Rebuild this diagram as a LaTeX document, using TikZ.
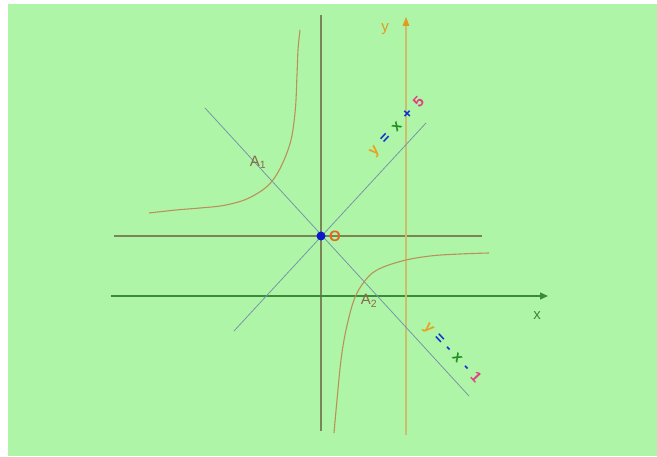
\documentclass[tikz,border=0pt]{standalone}
\usepackage{fontspec}
\setmainfont{Liberation Sans}
\usetikzlibrary{arrows.meta}
\definecolor{bg}{HTML}{AFF5A8}
\definecolor{asym}{HTML}{7A8658}
\definecolor{xax}{HTML}{3A8A3A}
\definecolor{yax}{HTML}{CDBE6C}
\definecolor{yarr}{HTML}{E39A20}
\definecolor{diag}{HTML}{7896A6}
\definecolor{hyp}{HTML}{B8925A}
\definecolor{odot}{HTML}{0A1AC8}
\definecolor{olab}{HTML}{E06A20}
\definecolor{alab}{HTML}{8A6A4A}
\definecolor{eqy}{HTML}{E8A020}
\definecolor{eqb}{HTML}{1030D0}
\definecolor{eqx}{HTML}{209020}
\definecolor{eqn}{HTML}{E04080}
\tikzset{
  asymline/.style={draw=asym, line width=1.1pt},
  diagline/.style={draw=diag, line width=0.8pt},
  hypline/.style={draw=hyp, line width=1.1pt},
  lab/.style={inner sep=0pt, font=\fontsize{15}{15}\selectfont},
  eqlab/.style={inner sep=0pt, font=\fontsize{15}{15}\selectfont\bfseries},
}
\newcommand{\gapa}{\hspace{8pt}}
\newcommand{\gapb}{\hspace{6.5pt}}
\begin{document}
\begin{tikzpicture}[x=1pt, y=-1pt]
\useasboundingbox (0,0) rectangle (657,457);
\fill[white] (0,0) rectangle (657,457);
\fill[bg] (8,4) rectangle (657,456);
% coordinates
\coordinate (vt) at (321,15);
\coordinate (vb) at (321,431);
\coordinate (hl) at (114,236);
\coordinate (hr) at (482,236);
\coordinate (xl) at (111,296);
\coordinate (xr) at (548,296);
\coordinate (yb) at (406,435);
\coordinate (yt) at (406,17);
\coordinate (ral) at (234,331);
\coordinate (rar) at (426,123);
\coordinate (fal) at (205,108);
\coordinate (far) at (469,396);
% asymptotes
\draw[asymline] (vt) -- (vb);
\draw[asymline] (hl) -- (hr);
% axes
\draw[draw=xax, line width=1.1pt, -{Triangle[length=8pt,width=7pt]}] (xl) -- (xr);
\draw[draw=yax, line width=1.1pt] (yb) -- (406,26);
\fill[yarr] (yt) -- (402.5,26) -- (409.5,26) -- cycle;
\node[lab, text=xax] (xlab) at (537,316) {x};
\node[lab, text=yarr] (ylab) at (385,29) {y};
% diagonals
\draw[diagline] (ral) -- (rar);
\draw[diagline] (fal) -- (far);
% hyperbola
\draw[hypline] plot[smooth, tension=0.6] coordinates {(300,30) (298,50) (297,75) (295,113) (289,147) (273,180) (251,197) (226,205) (200,208) (176,210) (149,213)};
\draw[hypline] plot[smooth, tension=0.6] coordinates {(489,253) (460,254) (430,256) (402,261) (377,270) (364,282) (354,300) (346,330) (341,360) (337,400) (334,433)};
% centre
\fill[odot] (321,236) circle (4.5pt);
\node[lab, text=olab, font=\fontsize{15}{15}\selectfont\bfseries] (olabel) at (335,236) {O};
% A labels
\node[lab, text=alab] (a1) at (258,162) {A\textsubscript{1}};
\node[lab, text=alab] (a2) at (369,301) {A\textsubscript{2}};
% equations
\node[eqlab, rotate=47] (eq1) at (397,127) {\textcolor{eqy}{y}\gapa\textcolor{eqb}{=}\gapa\textcolor{eqx}{x}\gapa\textcolor{eqb}{+}\gapa\textcolor{eqn}{5}};
\node[eqlab, rotate=-47] (eq2) at (452,353) {\textcolor{eqy}{y}\gapb\textcolor{eqb}{=}\gapb\textcolor{eqb}{-}\gapb\textcolor{eqx}{x}\gapb\textcolor{eqb}{-}\gapb\textcolor{eqn}{1}};
\end{tikzpicture}
\end{document}
